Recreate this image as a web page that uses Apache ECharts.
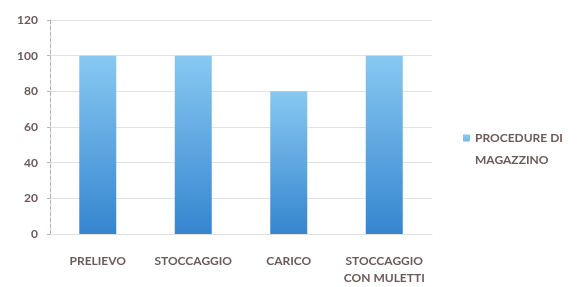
<!DOCTYPE html>
<html>
	<head>
		<meta charset="utf-8">
		<title>Procedure di magazzino</title>
		<script src="https://cdn.jsdelivr.net/npm/echarts@6/dist/echarts.min.js"></script>
	</head>
	<body style="margin:0;background:#fff">
		<div id="box" style="width: 579px;height: 287px;"></div>
		<script>
			var categories = ['PRELIEVO', 'STOCCAGGIO', 'CARICO', 'STOCCAGGIO\nCON MULETTI']
			var values = [100, 100, 80, 100]
			var seriesName = 'PROCEDURE DI\nMAGAZZINO'

			var textColor = '#6b5a5a'
			var mCharts = echarts.init(document.querySelector('#box'))

			var option = {
				animation: false,
				grid: {
					left: 50,
					right: 147,
					top: 20,
					bottom: 47
				},
				legend: {
					orient: 'vertical',
					left: 458,
					top: 122,
					itemWidth: 7,
					itemHeight: 29,
					// carré en haut de l'icône -> aligné sur la 1re ligne du texte
					icon: 'path://M0,0H7V7H0Z M0,29H0.01V29.01H0Z',
					textStyle: {
						color: textColor,
						fontFamily: 'Lato',
						fontWeight: 'bold',
						fontSize: 12,
						lineHeight: 22
					},
					data: [seriesName]
				},
				xAxis: {
					type: 'category',
					data: categories,
					axisLine: { lineStyle: { color: '#e0e0e0' } },
					axisTick: { show: false },
					axisLabel: {
						color: textColor,
						fontFamily: 'Lato',
						fontWeight: 'bold',
						fontSize: 12,
						lineHeight: 17,
						margin: 19,
						interval: 0
					}
				},
				yAxis: {
					type: 'value',
					min: 0,
					max: 120,
					interval: 20,
					axisLine: { show: true, lineStyle: { color: '#b0b0b0', type: 'dashed', width: 1 } },
					axisTick: { show: true, length: 3, lineStyle: { color: '#b0b0b0' } },
					splitLine: { lineStyle: { color: '#e2e2e2' } },
					axisLabel: {
						color: textColor,
						fontFamily: 'Lato',
						fontWeight: 'bold',
						fontSize: 12,
						margin: 12
					}
				},
				series: {
					name: seriesName,
					type: 'bar',
					data: values,
					barWidth: 37,
					itemStyle: {
						color: new echarts.graphic.LinearGradient(0, 0, 0, 1, [
							{ offset: 0, color: '#88c9f2' },
							{ offset: 1, color: '#3585cf' }
						])
					}
				}
			}
			mCharts.setOption(option)
		</script>
	</body>
</html>
